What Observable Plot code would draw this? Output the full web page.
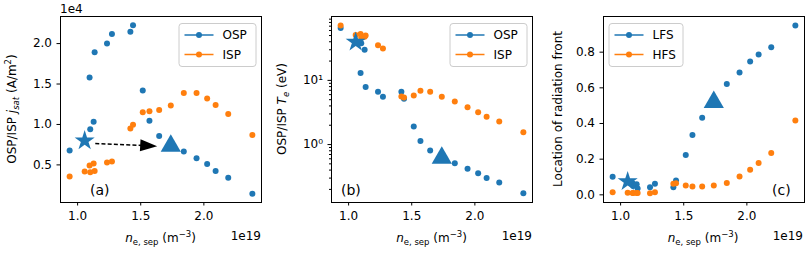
<!DOCTYPE html>
<html><head><meta charset="utf-8">
<script src="https://cdn.jsdelivr.net/npm/d3@7"></script>
<script src="https://cdn.jsdelivr.net/npm/@observablehq/plot@0.6"></script>
<style>
html,body{margin:0;padding:0;background:#fff;}
#wrap{position:relative;width:806px;height:254px;overflow:hidden;font-family:"DejaVu Sans",sans-serif;}
#wrap svg{position:absolute;top:0;}
</style></head><body><div id="wrap"></div>
<script>
// separatrix density, units of 1e19 m^-3
const ne = [0.937, 1.056, 1.095, 1.100, 1.127, 1.135, 1.233, 1.272, 1.418, 1.439, 1.516, 1.569, 1.646, 1.738, 1.841, 1.942, 2.026, 2.093, 2.193, 2.384];
// (a) jsat, units of 1e4 A/m^2
const jsatOSP = [0.678, 0.80, 1.581, 0.94, 1.034, 1.892, 2.00, 2.12, 2.145, 2.228, 1.42, 1.047, 0.856, 0.736, 0.666, 0.583, 0.512, 0.425, 0.342, 0.143];
const jsatISP = [0.355, 0.417, 0.491, 0.409, 0.516, 0.425, 0.529, 0.541, 0.951, 0.997, 1.15, 1.163, 1.179, 1.233, 1.39, 1.39, 1.32, 1.242, 1.13, 0.869];
// (b) Te, eV
const teOSP = [65.8, 39.7, 13.0, 38, 30, 7.87, 6.65, 5.56, 6.65, 5.18, 1.91, 1.14, 0.806, 0.62, 0.51, 0.42, 0.356, 0.30, 0.257, 0.174];
const teISP = [71.5, 51, 53, 46, 48, 50, 35.3, 31.3, 5.62, 5.42, 5.83, 6.9, 6.65, 5.56, 4.7, 3.83, 3.2, 2.7, 2.28, 1.56];
// (c) location of radiation front
const frontLFS = [0.101, 0.075, 0.065, 0.05, 0.06, 0.035, 0.043, 0.062, 0.043, 0.08, 0.224, 0.336, 0.432, 0.52, 0.622, 0.686, 0.748, 0.787, 0.828, 0.95];
const frontHFS = [0.015, 0.011, 0.01, 0.01, 0.01, 0.01, 0.009, 0.015, 0.062, 0.065, 0.052, 0.047, 0.047, 0.052, 0.067, 0.103, 0.14, 0.179, 0.234, 0.417];
// highlighted cases (index into ne)
const starIdx = 1, triIdx = 13;
// arrow in (a): start [x,y], head centre [x,y]
const arrowFrom = [1.14, 0.765];
const arrowHead = [1.563, 0.736];

const blue = "#1f77b4", orange = "#ff7f0e";
const FS = 12;
const xDomain = [0.8646, 2.4564];
const xTicks = [1.0, 1.5, 2.0];

const headSymbol = {draw(ctx){ctx.moveTo(8.5,0);ctx.lineTo(-8.5,-6);ctx.lineTo(-8.5,6);ctx.closePath();}};

function rows(a, b){ return ne.map((x,i)=>({x, a:a[i], b:b[i]})); }

function panel({left, ml, mr, y, yAxes, A, B, extra=[]}) {
  const data = rows(A, B);
  const svg = Plot.plot({
    width: 270, height: 254, marginLeft: ml, marginRight: mr, marginTop: 16, marginBottom: 52,
    style: {fontFamily: "DejaVu Sans", fontSize: FS + "px", background: "transparent", color: "#000", overflow: "visible"},
    x: {domain: xDomain},
    y,
    marks: [
      Plot.axisX({ticks: xTicks, tickFormat: d => d.toFixed(1), tickSize: 3.5, tickPadding: 5, label: null}),
      ...yAxes,
      Plot.dot(data, {x: "x", y: "a", r: 3, fill: blue}),
      Plot.dot(data, {x: "x", y: "b", r: 3, fill: orange}),
      Plot.dot([data[starIdx]], {x: "x", y: "a", r: 6.3, symbol: "star", fill: blue}),
      Plot.dot([data[triIdx]], {x: "x", y: "a", r: 7.5, symbol: "triangle", fill: blue}),
      ...extra,
      Plot.frame({stroke: "#000", strokeWidth: 1})
    ]
  });
  svg.style.left = left + "px";
  return svg;
}

const wrap = document.getElementById("wrap");

wrap.appendChild(panel({
  left: 0, ml: 60, mr: 9,
  y: {domain: [0.035, 2.335]},
  yAxes: [Plot.axisY({ticks: [0.5, 1.0, 1.5, 2.0], tickFormat: d => d.toFixed(1), tickSize: 3.5, tickPadding: 5, label: null})],
  A: jsatOSP, B: jsatISP,
  extra: [
    Plot.link([{x1: arrowFrom[0], y1: arrowFrom[1], x2: arrowHead[0], y2: arrowHead[1]}], {x1: "x1", y1: "y1", x2: "x2", y2: "y2", stroke: "#000", strokeWidth: 1.5, strokeDasharray: "4,2.2"}),
    Plot.dot([{x: arrowHead[0], y: arrowHead[1]}], {x: "x", y: "y", symbol: headSymbol, fill: "#000", rotate: 3, r: 5})
  ]
}));

const minor = [];
for (const d of [0.1, 1, 10]) for (let k = 2; k <= 9; k++) minor.push(+(d * k).toFixed(3));
wrap.appendChild(panel({
  left: 270, ml: 61, mr: 8,
  y: {type: "log", domain: [0.125, 99]},
  yAxes: [
    Plot.axisY({ticks: [1, 10], tickFormat: d => d === 1 ? "10⁰" : "10¹", tickSize: 3.5, tickPadding: 5, label: null}),
    Plot.axisY({ticks: minor.filter(v => v > 0.125 && v < 99), tickFormat: () => "", tickSize: 2, label: null})
  ],
  A: teOSP, B: teISP
}));

wrap.appendChild(panel({
  left: 536, ml: 67, mr: 2,
  y: {domain: [-0.043, 1.0]},
  yAxes: [Plot.axisY({ticks: [0, 0.2, 0.4, 0.6, 0.8], tickFormat: d => d.toFixed(1), tickSize: 3.5, tickPadding: 5, label: null})],
  A: frontLFS, B: frontHFS
}));

// overlay: labels, legends, offset texts
const sub = 8.5;
function xlabel(cx){
  return `<text x="${cx}" y="242" text-anchor="middle"><tspan font-style="italic">n</tspan><tspan font-size="${sub}px" dy="3">e, sep</tspan><tspan dy="-3"> (m</tspan><tspan font-size="${sub}px" dy="-5">−3</tspan><tspan dy="5">)</tspan></text>`;
}
function legend(x, w, names){
  let s = `<rect x="${x}" y="23.5" width="${w}" height="43" rx="3" fill="#fff" fill-opacity="0.8" stroke="#cccccc" stroke-width="1"/>`;
  names.forEach(([name, col], i) => {
    const yy = 35 + i * 19.5;
    s += `<line x1="${x+5.5}" x2="${x+34.5}" y1="${yy}" y2="${yy}" stroke="${col}" stroke-width="1.5"/>`;
    s += `<circle cx="${x+20}" cy="${yy}" r="3" fill="${col}"/>`;
    s += `<text x="${x+43.5}" y="${yy+4.3}">${name}</text>`;
  });
  return s;
}
const ov = `<svg width="806" height="254" style="left:0" font-family="DejaVu Sans" font-size="${FS}px" fill="#000">
${xlabel(160.5)}${xlabel(431.5)}${xlabel(703)}
<text x="60" y="13">1e4</text>
<text x="261" y="240" text-anchor="end">1e19</text>
<text x="532" y="240" text-anchor="end">1e19</text>
<text x="803" y="240" text-anchor="end">1e19</text>
<text transform="translate(16,109) rotate(-90)" text-anchor="middle">OSP/ISP <tspan font-style="italic">j</tspan><tspan font-style="italic" font-size="${sub}px" dy="2.5">sat</tspan><tspan dy="-2.5"> (A/m</tspan><tspan font-size="${sub}px" dy="-5">2</tspan><tspan dy="5">)</tspan></text>
<text transform="translate(286,109) rotate(-90)" text-anchor="middle">OSP/ISP <tspan font-style="italic">T</tspan><tspan font-style="italic" font-size="${sub}px" dy="2.5">e</tspan><tspan dy="-2.5"> (eV)</tspan></text>
<text transform="translate(562,109) rotate(-90)" text-anchor="middle">Location of radiation front</text>
<text x="90" y="195" font-size="14px">(a)</text>
<text x="341" y="195" font-size="14px">(b)</text>
<text x="772" y="195" font-size="14px">(c)</text>
${legend(179, 77, [["OSP", blue], ["ISP", orange]])}
${legend(450, 77, [["OSP", blue], ["ISP", orange]])}
${legend(609, 74, [["LFS", blue], ["HFS", orange]])}
</svg>`;
wrap.insertAdjacentHTML("beforeend", ov);
</script></body></html>
